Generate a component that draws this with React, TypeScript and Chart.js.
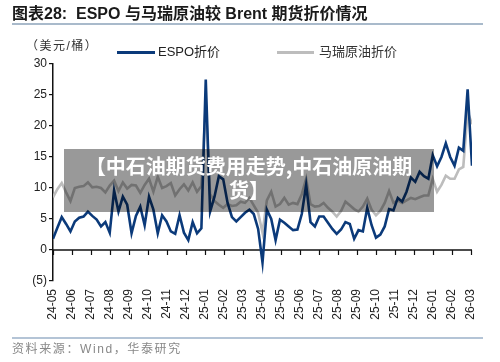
import React, { useEffect, useRef } from "react";
import { Chart, registerables } from "chart.js";

Chart.register(...registerables);

// Month tick labels (x axis)
const monthLabels = [
  "24-05", "24-06", "24-07", "24-08", "24-09", "24-10", "24-11", "24-12",
  "25-01", "25-02", "25-03", "25-04", "25-05", "25-06", "25-07", "25-08",
  "25-09", "25-10", "25-11", "25-12", "26-01", "26-02", "26-03",
];

// Weekly ESPO discount vs Brent (USD/bbl), starting first week of 2024-05
const espo = [
  1.8, 3.6, 5.3, 4.2, 3.0, 4.6, 5.2, 5.4, 6.2, 5.5,
  4.9, 3.8, 4.5, 2.8, 9.6, 6.2, 8.6, 7.3, 2.7, 5.5,
  7.0, 4.0, 8.6, 6.5, 2.7, 5.6, 4.6, 3.0, 2.6, 5.6,
  2.8, 1.6, 4.5, 2.7, 3.5, 27.5, 6.2, 8.6, 11.9, 11.4,
  7.6, 5.3, 4.6, 5.3, 6.0, 6.5, 5.8, 3.4, -2.0, 6.5,
  5.0, 1.6, 4.9, 4.4, 3.8, 3.2, 3.3, 5.8, 10.5, 4.5,
  3.8, 5.4, 5.4, 4.4, 3.4, 2.6, 3.3, 4.5, 4.2, 1.8,
  3.2, 3.0, 6.8, 4.0, 2.0, 2.5, 3.8, 6.6, 6.4, 8.4,
  7.8, 9.4, 11.7, 11.0, 12.6, 11.9, 11.5, 15.3, 13.5, 15.0,
  17.2, 15.0, 13.6, 16.5, 16.0, 25.9, 13.6,
];

// Weekly Marlim (马瑞) crude discount vs Brent (USD/bbl)
const marui = [
  8.5, 9.8, 10.8, 9.3, 7.9, 10.0, 10.2, 10.3, 10.9, 10.1,
  10.2, 10.0, 9.3, 10.4, 11.2, 9.5, 10.9, 9.9, 10.5, 10.4,
  9.2, 10.5, 11.5, 9.4, 11.8, 10.0, 10.3, 10.8, 8.8, 9.8,
  10.6, 9.6, 10.9, 9.4, 10.3, 23.5, 9.0, 7.9, 7.3, 6.8,
  7.4, 7.1, 7.2, 7.8, 7.6, 8.4, 7.2, 6.0, 2.8, 8.0,
  9.4, 7.0, 7.4, 8.4, 7.3, 7.6, 7.4, 9.0, 11.5, 7.4,
  7.0, 7.1, 7.6, 6.8, 6.2, 5.4, 6.3, 7.8, 7.2, 6.6,
  6.2, 7.0, 8.3, 6.5, 5.6, 6.3, 7.6, 9.5, 7.6, 8.0,
  7.6, 8.0, 8.4, 8.2, 8.5, 8.8, 8.8, 11.5, 9.4, 10.5,
  12.0, 11.5, 11.5, 13.0, 13.4, 22.3, 20.3,
];

const yTicks = [-5, 0, 5, 10, 15, 20, 25, 30];

const WEEK_IN_MONTHS = 7 / 30.4375;
const BLUE = "#0b3a7a";
const GRAY = "#bdbdbd";
const FONT = '"Liberation Sans", Arial, "Noto Sans CJK SC", sans-serif';

export default function App() {
  const ref = useRef<HTMLCanvasElement>(null);

  useEffect(() => {
    if (!ref.current) return;
    const toPts = (arr: number[]) => arr.map((v, i) => ({ x: i * WEEK_IN_MONTHS, y: v }));

    const zeroLine = {
      id: "zeroLine",
      beforeDatasetsDraw(chart: any) {
        const { ctx, chartArea, scales } = chart;
        const x = scales.x;
        const y = scales.y;
        const y0 = y.getPixelForValue(0);
        ctx.save();
        ctx.strokeStyle = "#111";
        ctx.lineWidth = 1.5;
        ctx.beginPath();
        ctx.moveTo(chartArea.left, y0);
        ctx.lineTo(chartArea.right, y0);
        ctx.stroke();
        ctx.lineWidth = 1.2;
        ctx.beginPath();
        monthLabels.forEach((_, i) => {
          const px = Math.round(x.getPixelForValue(i)) + 0.5;
          ctx.moveTo(px, y0);
          ctx.lineTo(px, y0 + 5);
        });
        ctx.stroke();
        ctx.restore();
      },
    };

    const chart = new Chart(ref.current, {
      type: "line",
      data: {
        datasets: [
          {
            label: "ESPO折价",
            data: toPts(espo),
            borderColor: BLUE,
            borderWidth: 2.6,
            pointRadius: 0,
            tension: 0,
          },
          {
            label: "马瑞原油折价",
            data: toPts(marui),
            borderColor: GRAY,
            borderWidth: 2.6,
            pointRadius: 0,
            tension: 0,
          },
        ],
      },
      options: {
        responsive: false,
        animation: false,
        layout: { padding: { left: 0, right: 28, top: 64, bottom: 0 } },
        plugins: { legend: { display: false }, tooltip: { enabled: false } },
        scales: {
          x: {
            type: "linear",
            min: 0,
            max: (espo.length - 1) * WEEK_IN_MONTHS,
            afterBuildTicks: (s: any) => {
              s.ticks = monthLabels.map((_, i) => ({ value: i }));
            },
            afterFit: (s: any) => {
              s.height = 81;
            },
            grid: { display: false, drawTicks: false },
            border: { display: false },
            ticks: {
              autoSkip: false,
              maxRotation: 90,
              minRotation: 90,
              padding: 8,
              color: "#222",
              font: { family: FONT, size: 12 },
              callback: (v: any) => monthLabels[Math.round(v)] ?? "",
            },
          },
          y: {
            min: -5,
            max: 30,
            afterBuildTicks: (s: any) => {
              s.ticks = yTicks.map((v) => ({ value: v }));
            },
            afterFit: (s: any) => {
              s.width = 53;
            },
            grid: {
              drawOnChartArea: false,
              drawTicks: true,
              tickLength: 4,
              color: "#111",
              lineWidth: 1.2,
            },
            border: { display: true, color: "#111", width: 1.5 },
            ticks: {
              padding: 2,
              color: "#222",
              font: { family: FONT, size: 12 },
              callback: (v: any) => (v < 0 ? `(${-v})` : `${v}`),
            },
          },
        },
      },
      plugins: [zeroLine],
    } as any);
    return () => chart.destroy();
  }, []);

  return (
    <div
      style={{
        position: "absolute",
        left: 0,
        top: 0,
        width: 500,
        height: 362,
        background: "#fff",
        fontFamily: FONT,
        overflow: "hidden",
      }}
    >
      <canvas
        ref={ref}
        width={500}
        height={362}
        style={{ position: "absolute", left: 0, top: 0, width: 500, height: 362 }}
      />
      {/* Title */}
      <div
        style={{
          position: "absolute",
          left: 12,
          top: 4,
          fontSize: 16,
          fontWeight: 700,
          lineHeight: "20px",
          color: "#1a1a1a",
          whiteSpace: "nowrap",
        }}
      >
        图表28:&nbsp;&nbsp;ESPO 与马瑞原油较 Brent 期货折价情况
      </div>
      <div style={{ position: "absolute", left: 12, top: 23, width: 471, height: 2, background: "#a9bacb" }} />
      {/* Units */}
      <div
        style={{
          position: "absolute",
          left: 26,
          top: 38,
          fontSize: 12,
          lineHeight: "16px",
          color: "#333",
          letterSpacing: 1.5,
          whiteSpace: "nowrap",
        }}
      >
        （美元/桶）
      </div>
      {/* Legend */}
      <div style={{ position: "absolute", left: 117, top: 51, width: 38, height: 3, background: BLUE }} />
      <div
        style={{ position: "absolute", left: 158, top: 44, fontSize: 13, lineHeight: "16px", color: "#222", whiteSpace: "nowrap" }}
      >
        ESPO折价
      </div>
      <div style={{ position: "absolute", left: 277, top: 51, width: 37, height: 3, background: GRAY }} />
      <div
        style={{ position: "absolute", left: 319, top: 44, fontSize: 13, lineHeight: "16px", color: "#333", whiteSpace: "nowrap" }}
      >
        马瑞原油折价
      </div>
      {/* Overlay caption box */}
      <div
        style={{
          position: "absolute",
          left: 64,
          top: 149,
          width: 370,
          height: 63,
          background: "rgba(0,0,0,0.4)",
          color: "#fff",
          fontFamily: '"Noto Sans CJK SC", sans-serif',
          fontWeight: 700,
          fontSize: 20,
          lineHeight: "24px",
          textAlign: "center",
          paddingTop: 5,
          boxSizing: "border-box",
          whiteSpace: "nowrap",
        }}
      >
        【中石油期货费用走势,中石油原油期
        <br />
        货】
      </div>
      {/* Footer */}
      <div style={{ position: "absolute", left: 12, top: 337, width: 471, height: 1.5, background: "#b4c4d6" }} />
      <div
        style={{
          position: "absolute",
          left: 12,
          top: 341,
          fontSize: 12,
          lineHeight: "16px",
          color: "#888",
          letterSpacing: 1.6,
          whiteSpace: "nowrap",
        }}
      >
        资料来源：Wind，华泰研究
      </div>
    </div>
  );
}
